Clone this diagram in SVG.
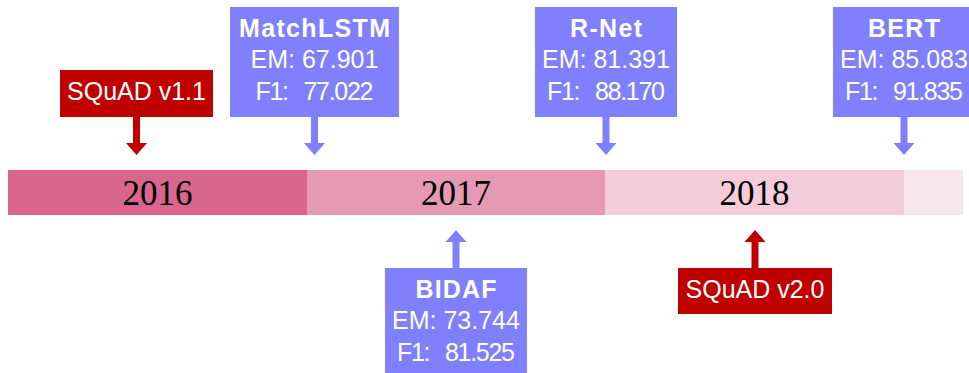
<svg xmlns="http://www.w3.org/2000/svg" width="969" height="373" viewBox="0 0 969 373">
  <style>
    .year { font-family: "Liberation Serif", "Times New Roman", serif; font-size: 35px; fill: #000; text-anchor: middle; }
    .lbl { font-family: "Liberation Sans", Arial, sans-serif; font-size: 25px; fill: #fff; text-anchor: middle; }
    .hd { font-weight: bold; }
    .model { fill: #8080ff; }
    .dataset { fill: #c00000; }
  </style>
  <defs>
    <!-- downward arrow, tip at origin -->
    <path id="arrowDown" d="M -3.5 -38 L 3.5 -38 L 3.5 -12 L 10.5 -12 L 0 0 L -10.5 -12 L -3.5 -12 Z"/>
  </defs>

  <!-- timeline bar -->
  <g id="timeline">
    <rect x="8" y="170" width="299" height="45" fill="#d9668c"/>
    <rect x="307" y="170" width="298" height="45" fill="#e599b2"/>
    <rect x="605" y="170" width="299" height="45" fill="#f2ccd9"/>
    <rect x="904" y="170" width="59" height="45" fill="#f9e6ec"/>
    <text class="year" x="157.5" y="205">2016</text>
    <text class="year" x="456" y="205">2017</text>
    <text class="year" x="754.5" y="205">2018</text>
  </g>

  <!-- connectors -->
  <g id="connectors">
    <use href="#arrowDown" x="136.5" y="155" class="dataset"/>
    <use href="#arrowDown" x="314.5" y="155" class="model"/>
    <use href="#arrowDown" x="606" y="155" class="model"/>
    <use href="#arrowDown" x="904" y="155" class="model"/>
    <use href="#arrowDown" transform="translate(456 230) scale(1 -1)" class="model"/>
    <use href="#arrowDown" transform="translate(755 230) scale(1 -1)" class="dataset"/>
  </g>

  <g id="squad11">
    <rect x="60" y="70" width="153" height="47" class="dataset"/>
    <text class="lbl" x="136.5" y="100">SQuAD v1.1</text>
  </g>

  <g id="matchlstm">
    <rect x="230" y="7" width="169" height="110" class="model"/>
    <text class="lbl hd" x="314.5" y="37" textLength="151">MatchLSTM</text>
    <text class="lbl" x="314.5" y="68">EM: 67.901</text>
    <text class="lbl" x="314.5" y="100" textLength="118">F1:<tspan dx="10"> 77.022</tspan></text>
  </g>

  <g id="rnet">
    <rect x="535" y="7" width="142" height="110" class="model"/>
    <text class="lbl hd" x="606" y="37" textLength="72">R-Net</text>
    <text class="lbl" x="606" y="68">EM: 81.391</text>
    <text class="lbl" x="606" y="100" textLength="118">F1:<tspan dx="10"> 88.170</tspan></text>
  </g>

  <g id="bert">
    <rect x="833" y="7" width="142" height="110" class="model"/>
    <text class="lbl hd" x="904" y="37" textLength="72">BERT</text>
    <text class="lbl" x="904" y="68">EM: 85.083</text>
    <text class="lbl" x="904" y="100" textLength="118">F1:<tspan dx="10"> 91.835</tspan></text>
  </g>

  <g id="bidaf">
    <rect x="385" y="268" width="142" height="110" class="model"/>
    <text class="lbl hd" x="456" y="298" textLength="81">BIDAF</text>
    <text class="lbl" x="456" y="329">EM: 73.744</text>
    <text class="lbl" x="456" y="361" textLength="118">F1:<tspan dx="10"> 81.525</tspan></text>
  </g>

  <g id="squad20">
    <rect x="678" y="268" width="154" height="46" class="dataset"/>
    <text class="lbl" x="755" y="298">SQuAD v2.0</text>
  </g>
</svg>
